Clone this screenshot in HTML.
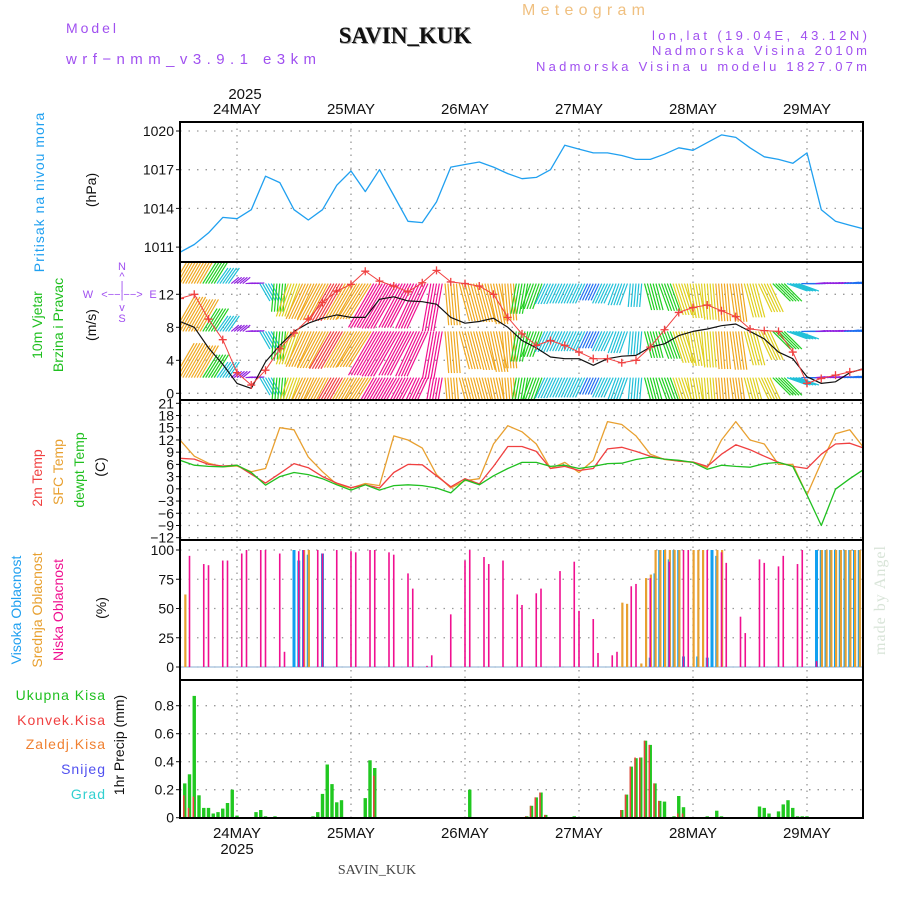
<!DOCTYPE html>
<html><head><meta charset="utf-8">
<style>
html,body{margin:0;padding:0;background:#fff;}
svg{display:block;font-family:"Liberation Sans",sans-serif;}
</style></head>
<body>
<svg id="chart" width="900" height="900" viewBox="0 0 900 900" xmlns="http://www.w3.org/2000/svg">
<defs>
<clipPath id="c1"><rect x="180" y="122" width="683" height="140"/></clipPath>
<clipPath id="c2"><rect x="180" y="262" width="683" height="138"/></clipPath>
<clipPath id="c3"><rect x="180" y="400" width="683" height="140"/></clipPath>
<clipPath id="c4"><rect x="180" y="540" width="683" height="140"/></clipPath>
<clipPath id="c5"><rect x="180" y="680" width="683" height="138"/></clipPath>
</defs>
<!-- header -->
<text x="522" y="15" font-size="16" fill="#f0c080" textLength="123" lengthAdjust="spacing">Meteogram</text>
<text x="66" y="33" font-size="14" fill="#a050f0" textLength="50" lengthAdjust="spacing">Model</text>
<text x="66" y="64" font-size="15" fill="#a050f0" textLength="250" lengthAdjust="spacing">wrf−nmm_v3.9.1  e3km</text>
<text x="406" y="44" font-size="23" font-weight="bold" font-family="Liberation Serif,serif" fill="#aaa" text-anchor="middle">SAVIN_KUK</text>
<text x="405" y="43" font-size="23" font-weight="bold" font-family="Liberation Serif,serif" fill="#111" text-anchor="middle">SAVIN_KUK</text>
<text x="652" y="40" font-size="13" fill="#a050f0" textLength="215" lengthAdjust="spacing">lon,lat (19.04E, 43.12N)</text>
<text x="652" y="55" font-size="13" fill="#a050f0" textLength="215" lengthAdjust="spacing">Nadmorska Visina 2010m</text>
<text x="536" y="71" font-size="13" fill="#a050f0" textLength="331" lengthAdjust="spacing">Nadmorska Visina u modelu 1827.07m</text>
<text x="245" y="99" font-size="15" fill="#111" text-anchor="middle">2025</text>
<g id="topdates" font-size="15" fill="#111" text-anchor="middle"></g>
<g id="botdates" font-size="15" fill="#111" text-anchor="middle"></g>
<text x="237" y="854" font-size="15" fill="#111" text-anchor="middle">2025</text>
<text x="377" y="874" font-size="14" font-family="Liberation Serif,serif" fill="#444" text-anchor="middle">SAVIN_KUK</text>
<text x="885" y="600" font-size="16" font-family="Liberation Serif,serif" fill="#d8e4d8" text-anchor="middle" transform="rotate(-90 885 600)" letter-spacing="1">made by Angel</text>

<!-- left axis titles -->
<text x="44" y="192" font-size="14" fill="#20a0f0" text-anchor="middle" transform="rotate(-90 44 192)" letter-spacing="1">Pritisak na nivou mora</text>
<text x="96" y="190" font-size="14" fill="#111" text-anchor="middle" transform="rotate(-90 96 190)">(hPa)</text>
<text x="42" y="325" font-size="14" fill="#20c020" text-anchor="middle" transform="rotate(-90 42 325)">10m Vjetar</text>
<text x="63" y="325" font-size="14" fill="#20c020" text-anchor="middle" transform="rotate(-90 63 325)">Brzina i Pravac</text>
<text x="96" y="325" font-size="14" fill="#111" text-anchor="middle" transform="rotate(-90 96 325)">(m/s)</text>
<g fill="#a050f0" font-size="11" text-anchor="middle">
<text x="122" y="270">N</text><text x="122" y="280">^</text><text x="122" y="289">|</text>
<text x="122" y="298">&lt;−−|−−&gt;</text><text x="88" y="298">W</text><text x="153" y="298">E</text>
<text x="122" y="311">v</text><text x="122" y="322">S</text>
</g>
<text x="42" y="478" font-size="14" fill="#f04040" text-anchor="middle" transform="rotate(-90 42 478)">2m Temp</text>
<text x="63" y="472" font-size="14" fill="#e8a030" text-anchor="middle" transform="rotate(-90 63 472)">SFC Temp</text>
<text x="84" y="470" font-size="14" fill="#20c020" text-anchor="middle" transform="rotate(-90 84 470)">dewpt Temp</text>
<text x="105" y="467" font-size="14" fill="#111" text-anchor="middle" transform="rotate(-90 105 467)">(C)</text>
<text x="21" y="610" font-size="14" fill="#20a0f0" text-anchor="middle" transform="rotate(-90 21 610)">Visoka Oblacnost</text>
<text x="42" y="610" font-size="14" fill="#e8a030" text-anchor="middle" transform="rotate(-90 42 610)">Srednja Oblacnost</text>
<text x="63" y="610" font-size="14" fill="#f01090" text-anchor="middle" transform="rotate(-90 63 610)">Niska Oblacnost</text>
<text x="106" y="608" font-size="14" fill="#111" text-anchor="middle" transform="rotate(-90 106 608)">(%)</text>
<g font-size="14" text-anchor="end" letter-spacing="1">
<text x="106" y="700" fill="#20c020">Ukupna  Kisa</text>
<text x="106" y="725" fill="#f04040">Konvek.Kisa</text>
<text x="106" y="749" fill="#f08030">Zaledj.Kisa</text>
<text x="106" y="774" fill="#5050f0">Snijeg</text>
<text x="106" y="799" fill="#30d0d0">Grad</text>
</g>
<text x="124" y="745" font-size="14" fill="#111" text-anchor="middle" transform="rotate(-90 124 745)">1hr Precip (mm)</text>

<g id="grid"></g>
<g id="p1" clip-path="url(#c1)"></g>
<g id="p2" clip-path="url(#c2)"></g>
<g id="p3" clip-path="url(#c3)"></g>
<g id="p4" clip-path="url(#c4)"></g>
<g id="p5" clip-path="url(#c5)"></g>
<g id="ticks" font-size="14" fill="#111" text-anchor="end"></g>
<g id="frames"></g>
</svg>
<script>
const NS = "http://www.w3.org/2000/svg";
// ---- data ----
const dayLabels = ["24MAY","25MAY","26MAY","27MAY","28MAY","29MAY"];
const dayHours = [12,36,60,84,108,132];
const hours = [0,3,6,9,12,15,18,21,24,27,30,33,36,39,42,45,48,51,54,57,60,63,66,69,72,75,78,81,84,87,90,93,96,99,102,105,108,111,114,117,120,123,126,129,132,135,138,141,144];
const pressure = [1010.6,1011.2,1012.1,1013.3,1013.2,1013.9,1016.5,1016.0,1013.9,1013.1,1013.9,1015.8,1016.9,1015.3,1017.0,1015.0,1013.0,1012.9,1014.5,1017.2,1017.4,1017.6,1017.2,1016.7,1016.3,1016.4,1017.0,1018.9,1018.6,1018.3,1018.3,1018.1,1017.8,1017.8,1018.2,1018.7,1018.5,1019.1,1019.7,1019.5,1018.7,1018.0,1017.8,1017.5,1018.3,1013.9,1013.0,1012.7,1012.4];
const windSpeed = [8.7,8,5.5,3.5,1.2,0.6,3.8,5.8,7.5,8.5,9.1,9.5,9.2,9.2,11.4,11.7,11.2,11.1,10.8,9.2,8.5,8.7,9.1,8,6.4,5.5,4.4,4.2,4.2,3.4,4.2,4.5,4.6,5.6,6,7,7.5,7.8,8.2,8.4,7.5,6.6,5,4.2,2,1.2,1.4,2.5,3];
const windGust = [11.5,12,9,6.5,2.5,1,2.8,5.4,7.3,9,11,12.4,13.2,14.8,13.6,13,12.3,13.4,14.9,13.5,13.3,13,12,9.2,7.2,5.8,6.4,5.8,5,4.2,4.2,3.7,4,5.6,7.7,9.8,10.4,10.7,10,9.3,7.8,7.6,7.5,5,1.2,1.8,2.2,2.6,2.9];
const windDirAngle = [60,60,58,55,40,5,-60,-95,-110,-115,-118,-120,-120,-122,-120,-120,-118,-115,-100,-85,-75,-75,-78,-85,-100,-110,-115,-115,-115,-115,-115,-110,-95,-75,-70,-72,-80,-85,-85,-82,-75,-65,-45,-20,0,5,5,5,5];
const tempSfc = [12,8,6.3,5.4,5.6,4.2,5,15,14.5,7.8,4.2,1.1,0.2,1.3,0.8,13,12,10,3.5,0.2,2,2.5,11,15.5,14,11,5,6.5,4,7,16.5,15.8,13,8.5,7.2,6.8,6.5,5.2,12,16.5,12,11,6,6,-1.5,6.5,13.5,14.5,10];
const temp2m = [7.5,7.3,6,5.6,5.8,3.6,1.4,3.8,6.2,5.2,3,1.4,0.3,1,0.2,4,6,5.9,3.2,0.5,2.5,1.2,5.5,10.4,10.4,9.2,5,5.5,4.5,5,9.8,10.2,9.2,8,7.3,6.8,6.6,5.5,8.5,10.8,9.6,8,6.5,5.5,5,8.5,11,11.2,10];
const dewpt = [7,5.8,5.5,5.4,5.8,4,0.9,3,4,3.5,2.5,1,-0.3,1,-0.3,0.8,1,0.8,0.2,-1,2.2,1,3.2,5,6.5,6.5,5.5,5.8,5,5.5,6.2,6.3,7.2,7.8,7.3,7,6.5,4.8,5.8,5.5,5.3,6.2,6.5,5.5,-1.5,-9,-0.1,2.5,4.8];
const lowCloudHours = [2,5,6,9,10,13,14,17,18,21,22,25,26,29,30,33,36,37,40,41,44,45,48,49,52,53,57,60,61,64,65,68,71,72,75,76,80,83,84,87,88,91,92,95,96,99,103,106,107,111,114,115,118,119,122,123,126,127,130,131,134];
const lowCloud = [95,88,87,91,91,97,100,100,100,97,13,99,100,100,97,100,99,98,100,100,98,96,80,67,1,10,45,91,100,94,88,91,62,53,63,67,82,90,48,41,12,10,13,69,71,76,90,100,100,100,98,89,43,29,92,89,86,95,88,100,5];
const midCloudHours = [1,26,27,93,94,97,98,99,100,101,102,103,104,105,108,109,110,113,114,135,136,137,138,139,140,141,142,143];
const midCloud = [62,100,100,55,54,3,76,79,100,100,100,100,100,100,100,100,100,100,100,100,100,100,100,100,100,100,100,100];
const highCloudHours = [24,25,26,27,30,99,100,101,102,103,104,105,106,109,111,112,113,134,135,136,137,138,139,140,141,142,143];
const highCloud = [100,91,100,96,97,8,80,100,100,92,100,100,9,9,8,100,95,100,100,100,100,100,100,100,100,100,100];
const rainHours = [1,2,3,4,5,6,7,8,9,10,11,12,16,17,18,20,28,29,30,31,32,33,34,35,39,40,41,42,61,73,74,75,76,77,83,93,94,95,96,97,98,99,100,101,102,104,105,106,110,111,113,114,122,123,124,126,127,128,129,130,131,132];
const rainTotal = [0.245,0.31,0.87,0.16,0.07,0.07,0.03,0.04,0.065,0.105,0.2,0.015,0.04,0.055,0.01,0.01,0.01,0.04,0.17,0.38,0.24,0.11,0.125,0.005,0.14,0.41,0.355,0.005,0.2,0.01,0.085,0.145,0.18,0.02,0.01,0.055,0.165,0.365,0.425,0.43,0.55,0.52,0.245,0.12,0.115,0.01,0.155,0.075,0.005,0.01,0.05,0.01,0.08,0.07,0.03,0.045,0.095,0.125,0.07,0.01,0.01,0.01];
const convHours = [1,2,3,41,73,74,75,76,77,93,94,95,96,97,98,99,100,101,105,106];
const convRain = [0.16,0.07,0.15,0.3,0.01,0.085,0.145,0.18,0.02,0.055,0.165,0.365,0.43,0.43,0.55,0.52,0.245,0.12,0.03,0.03];
const presTicks = [1011,1014,1017,1020];
const windTicks = [0,4,8,12];
const tempTicks = [21,18,15,12,9,6,3,0,-3,-6,-9,-12];
const cloudTicks = [0,25,50,75,100];
const precipTicks = [0,0.2,0.4,0.6,0.8];

// ---- axes ----
const X = h => 180 + h*4.75;
const yP = p => 131 + (1020-p)*12.9;
const yW = s => 393.3 - s*8.25;
const yT = t => 403.3 + (21-t)*4.073;
const yC = c => 667 - c*1.17;
const yR = r => 817.7 - r*140;
const panels = [[122,262],[262,400],[400,540],[540,680],[680,818]];

function el(tag, attrs, parent){
  const e = document.createElementNS(NS, tag);
  for (const k in attrs) e.setAttribute(k, attrs[k]);
  parent.appendChild(e);
  return e;
}
const G = id => document.getElementById(id);

// grid
const grid = G('grid');
panels.forEach(([a,b]) => {
  dayHours.forEach(h => {
    const l = el('line',{x1:X(h),x2:X(h),y1:a,y2:b,stroke:'#999','stroke-width':1.3,'stroke-dasharray':'1.5 5'},grid);
    
    
  });
});
function hgrid(vals, fy){
  vals.forEach(v => {
    const l = el('line',{x1:180,x2:863,y1:fy(v),y2:fy(v),stroke:'#999','stroke-width':1.3,'stroke-dasharray':'1.5 7'},grid);
    
    
  });
}
hgrid(presTicks,yP); hgrid(windTicks,yW); hgrid(tempTicks,yT); hgrid(cloudTicks,yC); hgrid(precipTicks.slice(1),yR);

// date labels
dayLabels.forEach((d,i) => {
  const t = el('text',{x:X(dayHours[i]),y:114},G('topdates'));
  t.textContent = d;
  
  
  const b = el('text',{x:X(dayHours[i]),y:838},G('botdates'));
  b.textContent = d;
  
  
});

// ticks
const ticks = G('ticks');
function tickLabels(vals, fy, fmt){
  vals.forEach(v => {
    const t = el('text',{x:174,y:fy(v)+5},ticks);
    t.textContent = fmt(v);
    
    
    const m = el('line',{x1:176,x2:180,y1:fy(v),y2:fy(v),stroke:'#111','stroke-width':1},ticks);
    
    
  });
}
tickLabels(presTicks,yP,v=>String(v));
tickLabels(windTicks,yW,v=>String(v));
tickLabels(tempTicks,yT,v=>v<0?'−'+(-v):String(v));
tickLabels(cloudTicks,yC,v=>String(v));
tickLabels(precipTicks,yR,v=>v===0?'0':v.toFixed(1));

function polyline(parent, xs, ys, color, w, name){
  const pts = xs.map((h,i)=>X(h).toFixed(1)+','+ys[i].toFixed(1)).join(' ');
  const p = el('polyline',{points:pts,fill:'none',stroke:color,'stroke-width':w,'stroke-linejoin':'round'},parent);
  
  
  return p;
}

// pressure
polyline(G('p1'), hours, pressure.map(yP), '#20a0f0', 1.3, 'pressure-line');

// wind vectors
function speedColor(s){
  if (s < 2) return '#9020e0';
  if (s < 3.5) return '#2070f0';
  if (s < 5) return '#20c0d8';
  if (s < 6.5) return '#20d020';
  if (s < 8) return '#e0d020';
  if (s < 9.5) return '#f0a820';
  if (s < 10.5) return '#f04040';
  return '#f01090';
}
const p2 = G('p2');
const rowBase = [13.3, 7.5, 1.9];
rowBase.forEach(rb => {
  const by = yW(rb);
  hours.forEach((h,i) => {
    const s = windSpeed[i];
    const L = 4*s + 5;
    const a = windDirAngle[i]*Math.PI/180;
    const col = speedColor(s);
    for (let k=-2;k<=2;k++){
      const x0 = X(h) + k*2.85;
      const x1 = x0 + L*Math.cos(a), y1 = by - L*Math.sin(a);
      const ln = el('line',{x1:x0,y1:by,x2:x1,y2:y1,stroke:col,'stroke-width':1.2},p2);
      
      
    }
  });
});
polyline(p2, hours, windSpeed.map(yW), '#111', 1.2, 'wind-speed-line');
polyline(p2, hours, windGust.map(yW), '#f04040', 1, 'wind-gust-line');
hours.forEach((h,i) => {
  const x = X(h), y = yW(windGust[i]);
  const m = el('path',{d:`M${x-4},${y}H${x+4}M${x},${y-4}V${y+4}`,stroke:'#f04040','stroke-width':1.3},p2);
  
  
});

// temperature
const p3 = G('p3');
polyline(p3, hours, tempSfc.map(yT), '#e8a030', 1.3, 'sfc-temp-line');
polyline(p3, hours, temp2m.map(yT), '#f04040', 1.3, '2m-temp-line');
polyline(p3, hours, dewpt.map(yT), '#20c020', 1.3, 'dewpt-line');

// cloud bars
const p4 = G('p4');
function bars(parent, hs, vals, fy, color, w, off, name){
  hs.forEach((h,i) => {
    const y = fy(vals[i]), y0 = fy(0);
    const r = el('rect',{x:X(h)+off,y:Math.min(y,y0),width:w,height:Math.max(Math.abs(y0-y),0.8),fill:color},parent);
    
    
  });
}
const base4 = el('line',{x1:180,x2:863,y1:yC(0),y2:yC(0),stroke:'#b0c8e0','stroke-width':1.5},p4);


bars(p4, highCloudHours, highCloud, yC, '#10a0f0', 3, -1.5, 'high-cloud-bar');
bars(p4, midCloudHours, midCloud, yC, '#e8a030', 2.2, -0.5, 'mid-cloud-bar');
bars(p4, lowCloudHours, lowCloud, yC, '#f01090', 1.6, -0.8, 'low-cloud-bar');

// precip bars
const p5 = G('p5');
bars(p5, rainHours, rainTotal, yR, '#20c820', 3.4, -1.7, 'total-precip-bar');
bars(p5, convHours, convRain, yR, '#f04040', 1.5, -1.7, 'convective-precip-bar');
const base5 = el('line',{x1:180,x2:863,y1:yR(0),y2:yR(0),stroke:'#111','stroke-width':1.5,'stroke-dasharray':'5 2'},p5);



// frames
const fr = G('frames');
panels.forEach(([a,b]) => {
  const r = el('rect',{x:180,y:a,width:683,height:b-a,fill:'none',stroke:'#000','stroke-width':2},fr);
  
  
});
</script>
</body></html>
